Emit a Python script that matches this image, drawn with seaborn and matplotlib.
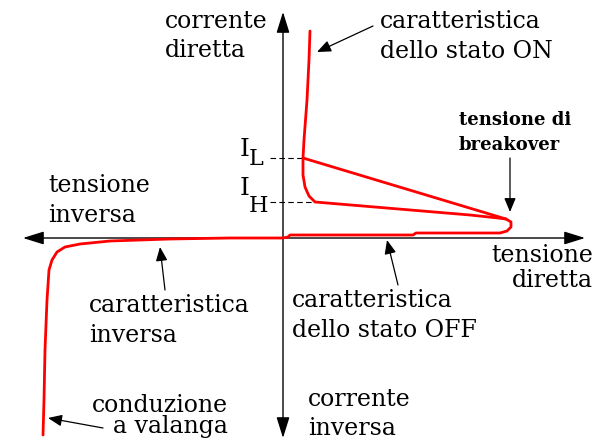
import matplotlib
matplotlib.use("Agg")
import matplotlib.pyplot as plt
import seaborn as sns
import pandas as pd

# Thyristor I-V characteristic (arbitrary units: voltage on x, current on y)
# Reverse branch, OFF state, breakover and negative-resistance return to I_L
v_main = [-240, -239, -238, -236, -234, -231, -226, -218, -203, -173, -113, -53,
          0, 5, 7, 130, 133, 217, 224, 228, 228, 223, 20]
i_main = [-197, -162, -112, -62, -32, -22, -14, -9, -6, -3, -1, 0,
          0, 1, 3, 3, 5, 5, 7, 11, 16, 19, 80]

# ON state, down to holding current and back towards breakover
v_on = [27, 26, 24, 21, 20, 20, 22, 26, 32, 187, 215, 223]
i_on = [207, 178, 138, 98, 80, 63, 51, 42, 36, 23, 20, 19]

i_latch = 80      # I_L
i_hold = 36       # I_H
v_latch = 20      # on-state voltage at I_L
v_hold = 32       # on-state voltage at I_H

sns.set_style("white")
plt.rcParams["font.family"] = ["DejaVu Serif"]
plt.rcParams["text.color"] = "black"

fig = plt.figure(figsize=(5.97, 4.41), dpi=100)
ax = fig.add_axes([0, 0, 1, 1])
ax.set_xlim(-283, 314)
ax.set_ylim(-203, 238)
ax.axis("off")

df_main = pd.DataFrame({"v": v_main, "i": i_main})
df_on = pd.DataFrame({"v": v_on, "i": i_on})
sns.lineplot(data=df_main, x="v", y="i", sort=False, estimator=None,
             color="#ff0000", lw=2.0, ax=ax, zorder=3)
sns.lineplot(data=df_on, x="v", y="i", sort=False, estimator=None,
             color="#ff0000", lw=2.0, ax=ax, zorder=3)

# Coordinate axes with arrowheads at every end
axis_style = dict(arrowstyle="-|>,head_length=0.8,head_width=0.25",
                  color="black", lw=1.0, shrinkA=0, shrinkB=0,
                  mutation_scale=16)
for end in [(-260, 0), (302, 0), (0, 226), (0, -200)]:
    ax.annotate("", xy=end, xytext=(0, 0), arrowprops=axis_style, zorder=2)

# Dashed markers for latching and holding currents
ax.plot([-13, v_latch], [i_latch, i_latch], color="black", lw=0.8,
        ls=(0, (5, 3)), zorder=2)
ax.plot([-13, v_hold], [i_hold, i_hold], color="black", lw=0.8,
        ls=(0, (5, 3)), zorder=2)
ax.text(-43, i_latch + 2, "I", fontsize=18, va="baseline")
ax.text(-34, i_latch - 7, "L", fontsize=16, va="baseline")
ax.text(-43, i_hold + 7, "I", fontsize=18, va="baseline")
ax.text(-34, i_hold - 10, "H", fontsize=16, va="baseline")

# Pointer arrows
ptr_style = dict(arrowstyle="-|>,head_length=0.6,head_width=0.25",
                 color="black", lw=0.9, shrinkA=0, shrinkB=0,
                 mutation_scale=14)
pointers = [((90, 212), (34, 186)),
            ((227, 80), (227, 26)),
            ((115, -47), (104, -2)),
            ((-118, -52), (-123, -9)),
            ((-180, -190), (-235, -180))]
for tail, head in pointers:
    ax.annotate("", xy=head, xytext=tail, arrowprops=ptr_style, zorder=4)


def label(x, y, lines, gap, **kw):
    for k, s in enumerate(lines):
        ax.text(x, y - k * gap, s, va="baseline", **kw)


label(-118, 210, ["corrente", "diretta"], 29, fontsize=17)
label(97, 210, ["caratteristica", "dello stato ON"], 30, fontsize=17)
label(176, 113, ["tensione di", "breakover"], 25, fontsize=13, fontweight="bold")
label(-235, 46, ["tensione", "inversa"], 30, fontsize=17)
label(310, -24, ["tensione", "diretta"], 25, fontsize=17, ha="right")
label(9, -69, ["caratteristica", "dello stato OFF"], 30, fontsize=17)
label(-194, -74, ["caratteristica", "inversa"], 30, fontsize=17)
label(-55, -174, ["conduzione", "a valanga"], 21, fontsize=17, ha="right")
label(25, -168, ["corrente", "inversa"], 29, fontsize=17)

fig.savefig("out.png", dpi=100)
